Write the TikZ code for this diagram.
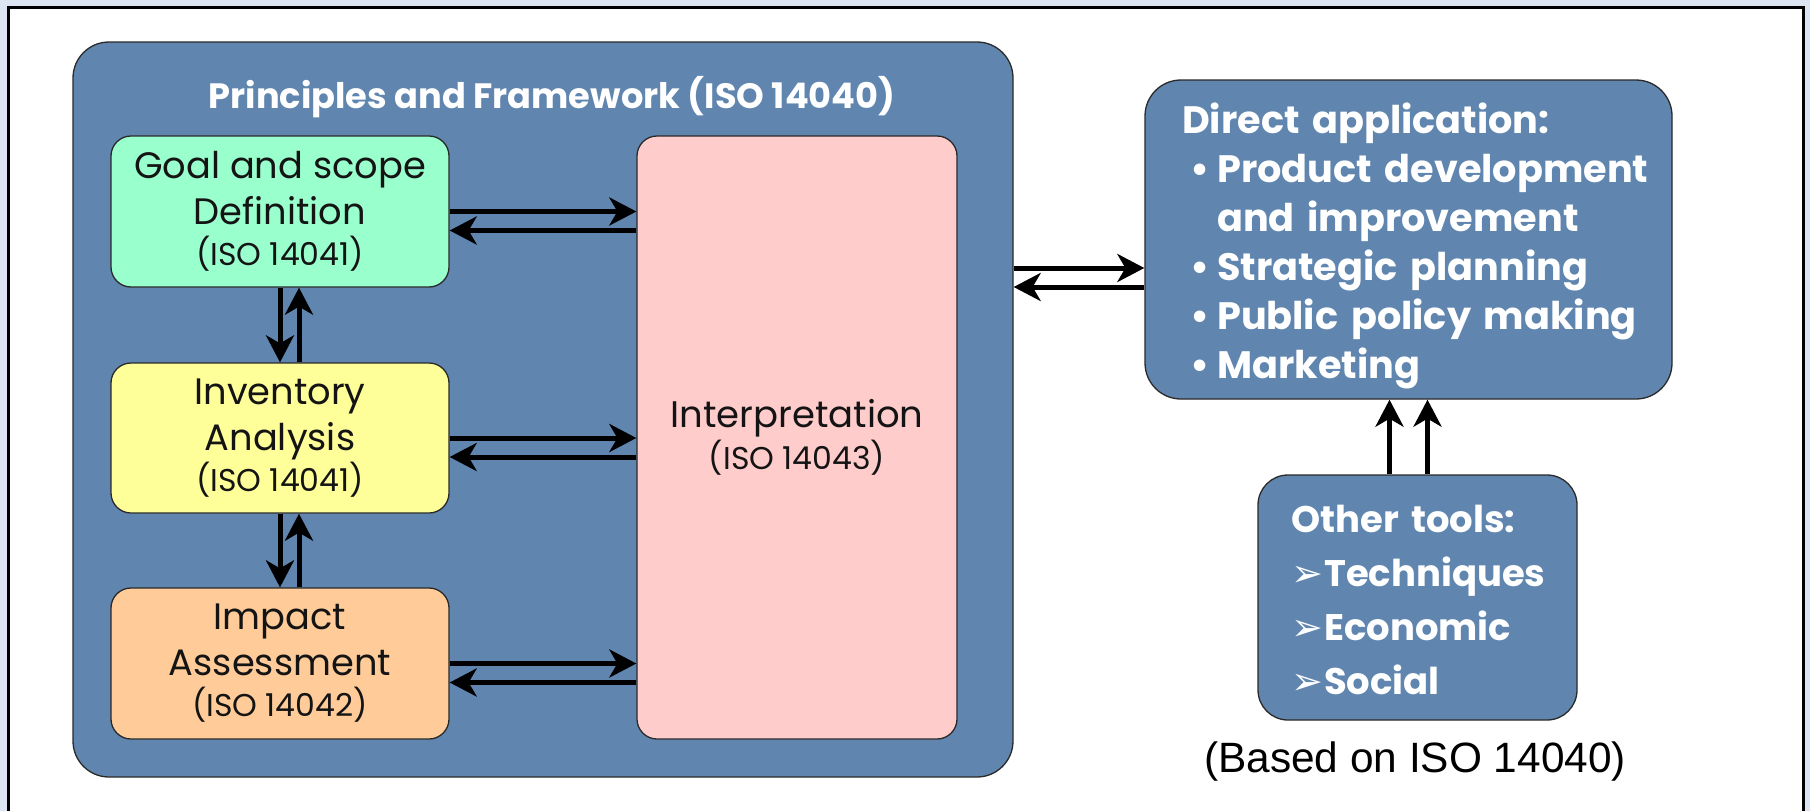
\documentclass[tikz,border=0pt]{standalone}
\usepackage{fontspec}
\setmainfont{Poppins}
\newfontfamily\notefont{Liberation Sans}
\newfontfamily\symfont{DejaVu Sans}
\usetikzlibrary{arrows.meta}

\definecolor{pagebg}{HTML}{DCE5F1}
\definecolor{panelblue}{RGB}{96,134,176}
\definecolor{edgedark}{HTML}{2A2A2A}
\definecolor{goalgreen}{HTML}{99FFCC}
\definecolor{invyellow}{HTML}{FFFF99}
\definecolor{impactorange}{HTML}{FFCC99}
\definecolor{interppink}{HTML}{FFCCCC}
\definecolor{inkdark}{HTML}{141414}

\newcommand{\isoline}[1]{{\fontsize{31.5}{34}\selectfont #1}}
\newcommand{\tip}{\makebox[33pt][l]{\symfont\fontsize{38}{54}\selectfont ➢}}

\begin{document}
\begin{tikzpicture}[x=1pt,y=-1pt,
  panel/.style={draw=edgedark, line width=1.3pt, fill=panelblue, rounded corners=#1},
  panel/.default=30pt,
  stagebox/.style={draw=edgedark, line width=1.3pt, rounded corners=20pt,
    minimum width=338pt, minimum height=151pt, inner sep=0pt,
    align=center, text=inkdark, font=\fontsize{36.8}{46}\selectfont},
  paneltext/.style={text=white, inner sep=0pt, align=left,
    font=\bfseries\fontsize{38.2}{49}\selectfont},
  flow/.style={draw=black, line width=5pt,
    -{Stealth[length=27pt, width=28pt, inset=8pt]}}]

\useasboundingbox (0,0) rectangle (1810,811);
\clip (0,0) rectangle (1810,811);

% page background and white sheet
\fill[pagebg] (0,0) rectangle (1810,811);
\draw[line width=3pt, fill=white] (8.5,7.5) rectangle (1803,840);

% framework panel with its stages
\node[panel=36pt, minimum width=940pt, minimum height=735pt] (fw) at (543,409.5) {};
\node[text=white, anchor=base, inner sep=0pt, font=\bfseries\fontsize{35.2}{44}\selectfont]
  (fwtitle) at (552,108) {Principles and Framework (ISO 14040)};

\node[stagebox, fill=goalgreen] (goal) at (280,211.5)
  {Goal and scope\\Definition\\[-5pt]\isoline{(ISO 14041)}};
\node[stagebox, fill=invyellow, minimum height=150pt] (inv) at (280,438)
  {Inventory\\Analysis\\[-5pt]\isoline{(ISO 14041)}};
\node[stagebox, fill=impactorange] (imp) at (280,663.5)
  {Impact\\Assessment\\[-5pt]\isoline{(ISO 14042)}};
\node[stagebox, fill=interppink, minimum width=320pt, minimum height=603pt,
  font=\fontsize{37}{42}\selectfont] (interp) at (797,437.5)
  {Interpretation\\\isoline{(ISO 14043)}};

% applications and other tools
\node[panel=36pt, minimum width=527pt, minimum height=319pt] (direct) at (1408.5,239.5) {};
\node[paneltext, text width=480pt, anchor=base west] (directtxt) at (1182,133)
  {Direct application:\\
   \hspace*{8pt}\makebox[27pt][l]{•}Product development\\
   \hspace*{35pt}and improvement\\
   \hspace*{8pt}\makebox[27pt][l]{•}Strategic planning\\
   \hspace*{8pt}\makebox[27pt][l]{•}Public policy making\\
   \hspace*{8pt}\makebox[27pt][l]{•}Marketing};

\node[panel=30pt, minimum width=319pt, minimum height=245pt] (tools) at (1417.5,597.5) {};
\node[paneltext, text width=280pt, anchor=base west, font=\bfseries\fontsize{37}{54.3}\selectfont]
  (toolstxt) at (1291,532)
  {Other tools:\\ \tip Techniques\\ \tip Economic\\ \tip Social};

\node[anchor=base, inner sep=0pt, font=\notefont\fontsize{42.4}{50}\selectfont]
  (source) at (1415,772) {(Based on ISO 14040)};

% exchanges between stages and interpretation
\foreach \s in {goal,inv,imp}{
  \draw[flow] (\s.east) -- (\s.east -| interp.west);
  \draw[flow] ([yshift=-19pt]\s.east -| interp.west) -- ([yshift=-19pt]\s.east);
}

% exchanges between successive stages
\draw[flow] (goal.south) -- (inv.north);
\draw[flow] ([xshift=19pt]inv.north) -- ([xshift=19pt]goal.south);
\draw[flow] (inv.south) -- (imp.north);
\draw[flow] ([xshift=19pt]imp.north) -- ([xshift=19pt]inv.south);

% framework <-> direct application
\draw[flow] ([yshift=-28.5pt]direct.west -| fw.east) -- ([yshift=-28.5pt]direct.west);
\draw[flow] ([yshift=-47.5pt]direct.west) -- ([yshift=-47.5pt]direct.west -| fw.east);

% other tools feed direct application
\draw[flow] ([xshift=-19pt]direct.south |- tools.north) -- ([xshift=-19pt]direct.south);
\draw[flow] ([xshift=19pt]direct.south |- tools.north) -- ([xshift=19pt]direct.south);

\end{tikzpicture}
\end{document}
